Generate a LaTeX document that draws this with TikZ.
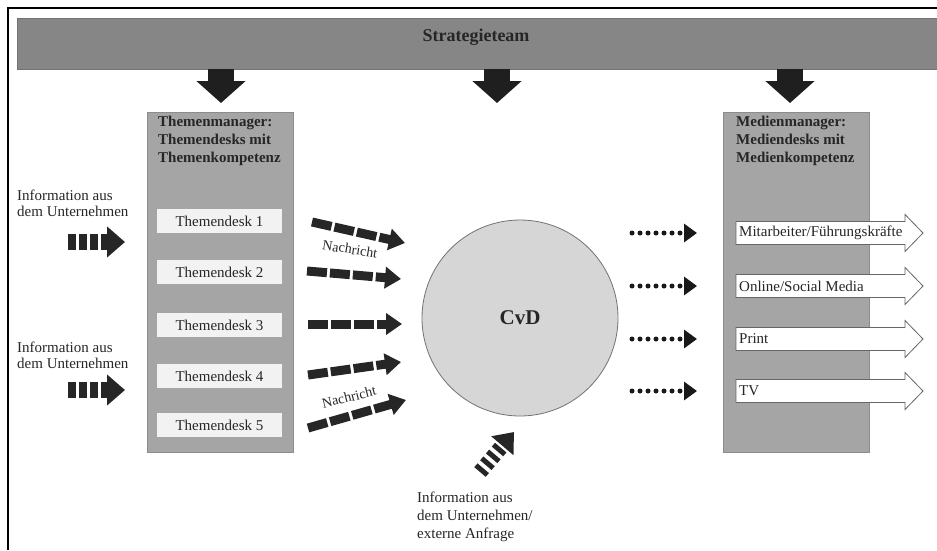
\documentclass[tikz,border=0pt]{standalone}
\usepackage{fontspec}
\setmainfont{Liberation Serif}
\usetikzlibrary{arrows.meta,positioning}

\definecolor{balken}{HTML}{868686}
\definecolor{spalte}{HTML}{A5A5A5}
\definecolor{desk}{HTML}{F2F2F2}
\definecolor{kreis}{HTML}{D6D6D6}
\definecolor{schrift}{HTML}{262626}

\begin{document}
\begin{tikzpicture}[x=1pt,y=-1pt,
    txt/.style={font=\fontsize{15}{16}\selectfont, text=schrift, inner sep=0pt},
    titel/.style={font=\bfseries\fontsize{15}{18}\selectfont, text=schrift, align=left, anchor=north west, inner sep=0pt},
    spaltenbox/.style={fill=spalte, draw=black!45, line width=0.8pt, anchor=north west, minimum width=146pt, minimum height=340pt},
    deskbox/.style={fill=desk, minimum width=125pt, minimum height=24pt, inner sep=0pt, font=\fontsize{15}{16}\selectfont, text=schrift},
    blockpfeil/.style={black!88, line width=26pt, -{Triangle[length=22pt,width=48pt]}},
    strichpfeil/.style={black!85, line width=9pt, dash pattern=on 20pt off 3pt, -{Triangle[length=16pt,width=21pt]}},
    balkenpfeil/.style={black!85, line width=16pt, dash pattern=on 8pt off 3pt, -{Triangle[length=18pt,width=30pt]}},
    punktpfeil/.style={black!90, line width=5pt, line cap=round, dash pattern=on 0pt off 8pt, -{Triangle[length=13pt,width=18pt]}},
    kanal/.style={fill=white, draw=black!60, line width=0.8pt}]
  \useasboundingbox (0,0) rectangle (937,550);

  % Rahmen
  \draw[line width=2pt] (8,550) -- (8,8) -- (937,8);

  % Strategieteam oben
  \node[fill=balken, draw=black!55, line width=0.8pt, anchor=north west, minimum width=920pt, minimum height=51pt] (team) at (17,18) {};
  \node[font=\bfseries\fontsize{18}{18}\selectfont, text=schrift] (teamtxt) at (476,37) {Strategieteam};
  \foreach \x in {221,497,790}
    \draw[blockpfeil] (\x,69) -- (\x,103);

  % Themenmanager
  \node[spaltenbox] (themen) at (147,112) {};
  \node[titel] (thementitel) at (158,116) {Themenmanager:\\Themendesks mit\\Themenkompetenz};
  \foreach \i/\y in {1/221,2/272,3/325,4/376,5/425}
    \node[deskbox] (desk\i) at (219.5,\y) {Themendesk \i};

  % Information von links
  \node[txt, align=left, anchor=west] (info1) at (17,203) {Information aus\\dem Unternehmen};
  \node[txt, align=left, anchor=west] (info2) at (17,355) {Information aus\\dem Unternehmen};
  \draw[balkenpfeil] (68,242) -- (125,242);
  \draw[balkenpfeil] (68,390) -- (125,390);

  % CvD
  \node[circle, fill=kreis, draw=black!55, line width=0.8pt, minimum size=196pt, font=\bfseries\fontsize{21}{21}\selectfont, text=schrift] (cvd) at (520,318) {CvD};

  % Nachrichten zum CvD
  \draw[strichpfeil] (312,222) -- (405,243);
  \draw[strichpfeil] (307,271) -- (401,279);
  \draw[strichpfeil] (308,324) -- (402,324);
  \draw[strichpfeil] (308,375) -- (401,362);
  \draw[strichpfeil] (308,428) -- (406,400);
  \node[txt, font=\fontsize{14}{14}\selectfont, rotate=-9] (nachricht1) at (350,249) {Nachricht};
  \node[txt, font=\fontsize{14}{14}\selectfont, rotate=14] (nachricht2) at (349,397) {Nachricht};

  % Information von unten
  \draw[black!85, line width=15pt, dash pattern=on 5pt off 4pt, -{Triangle[length=18pt,width=28pt]}] (480,472) -- (514,432);
  \node[txt, font=\fontsize{15}{18}\selectfont, align=left, anchor=north west] (info3) at (417,492) {Information aus\\dem Unternehmen/\\externe Anfrage};

  % Medienmanager
  \node[spaltenbox] (medien) at (723,112) {};
  \node[titel] (medientitel) at (736,116) {Medienmanager:\\Mediendesks mit\\Medienkompetenz};

  \foreach \y in {233,286,339,391} {
    \draw[punktpfeil] (632,\y) -- (697,\y);
    \draw[kanal] (736,\y-11.5) -- (905,\y-11.5) -- (905,\y-18.5) -- (923,\y)
      -- (905,\y+18.5) -- (905,\y+11.5) -- (736,\y+11.5) -- cycle;
  }
  \node[txt, anchor=west] (kanal1) at (739,233) {Mitarbeiter/Führungskräfte};
  \node[txt, anchor=west] (kanal2) at (739,286) {Online/Social Media};
  \node[txt, anchor=west] (kanal3) at (739,339) {Print};
  \node[txt, anchor=west] (kanal4) at (739,391) {TV};
\end{tikzpicture}
\end{document}
